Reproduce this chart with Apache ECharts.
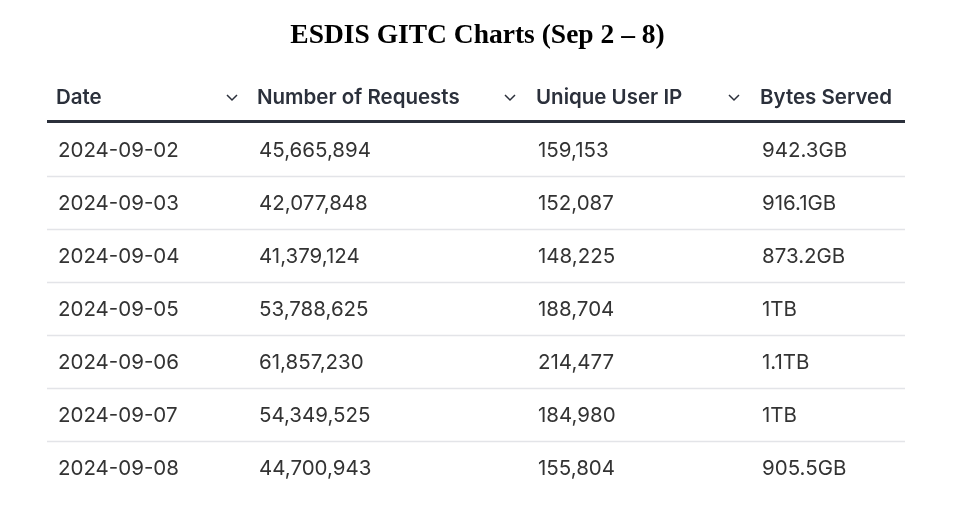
<!DOCTYPE html>
<html>
<head>
<meta charset="utf-8">
<script src="https://cdn.jsdelivr.net/npm/echarts@6/dist/echarts.min.js"></script>
<style>
    html, body { margin: 0; padding: 0; background: #fff; }
    #main { width: 955px; height: 525px; }
</style>
</head>
<body>
<div id="main"></div>
<script>
    //  table data
    var headers = ['Date', 'Number of Requests', 'Unique User IP', 'Bytes Served'];
    var dates = ['2024-09-02', '2024-09-03', '2024-09-04', '2024-09-05', '2024-09-06', '2024-09-07', '2024-09-08'];
    var requests = ['45,665,894', '42,077,848', '41,379,124', '53,788,625', '61,857,230', '54,349,525', '44,700,943'];
    var uniqueIps = ['159,153', '152,087', '148,225', '188,704', '214,477', '184,980', '155,804'];
    var bytesServed = ['942.3GB', '916.1GB', '873.2GB', '1TB', '1.1TB', '1TB', '905.5GB'];

    //  column text offsets inside the grid (px)
    var colX = [11, 212, 491, 715];
    var chevronX = [180, 458, 682];

    var columns = [dates, requests, uniqueIps, bytesServed];
    var cells = [];
    for (var r = 0; r < dates.length; r++) {
        for (var c = 0; c < columns.length; c++) {
            cells.push([colX[c], dates[r], columns[c][r], c]);
        }
    }

    var chart = echarts.init(document.getElementById('main'));
    var gridLeft = 47, gridRight = 50, gridTop = 123, rowH = 53;
    var fontFam = 'Inter, "Noto Sans", sans-serif';

    var headerGraphics = headers.map(function (h, i) {
        return {
            type: 'text', left: gridLeft + colX[i] - 2, top: 87,
            style: { text: h, font: '600 20.5px ' + fontFam, fill: '#2b303b' }
        };
    });
    chevronX.forEach(function (x) {
        headerGraphics.push({
            type: 'polyline', shape: { points: [[gridLeft + x, 95], [gridLeft + x + 5, 100], [gridLeft + x + 10, 95]] },
            style: { stroke: '#2b303b', lineWidth: 1.5, fill: null }
        });
    });
    headerGraphics.push({
        type: 'rect', shape: { x: gridLeft, y: 120, width: 955 - gridLeft - gridRight, height: 3 },
        style: { fill: '#2b303b' }
    });

    var option = {
        title: {
            text: 'ESDIS GITC Charts (Sep 2 – 8)',
            left: 'center', top: 17,
            textStyle: { fontFamily: '"Liberation Serif", "DejaVu Serif", serif', fontWeight: 'bold', fontSize: 27.5, color: '#000' }
        },
        graphic: headerGraphics,
        grid: { left: gridLeft, right: gridRight, top: gridTop, height: rowH * dates.length },
        xAxis: { type: 'value', min: 0, max: 955 - gridLeft - gridRight, show: false },
        yAxis: { type: 'category', data: dates, inverse: true, show: false },
        series: [{
            type: 'custom',
            data: cells,
            encode: { x: 0, y: 1 },
            renderItem: function (params, api) {
                var p = api.coord([api.value(0), api.value(1)]);
                var children = [{
                    type: 'text', x: p[0], y: p[1] + 1,
                    style: { text: cells[params.dataIndex][2], font: '400 20.5px ' + fontFam, fill: '#333', verticalAlign: 'middle' }
                }];
                var rowIdx = dates.indexOf(cells[params.dataIndex][1]);
                if (api.value(3) === 0 && rowIdx < dates.length - 1) {
                    var y = Math.round(p[1] + rowH / 2) + 0.5;
                    children.push({
                        type: 'line', shape: { x1: params.coordSys.x, y1: y, x2: params.coordSys.x + params.coordSys.width, y2: y },
                        style: { stroke: '#e3e4e8', lineWidth: 1.5 }
                    });
                }
                return { type: 'group', children: children };
            }
        }]
    };
    chart.setOption(option);
</script>
</body>
</html>
